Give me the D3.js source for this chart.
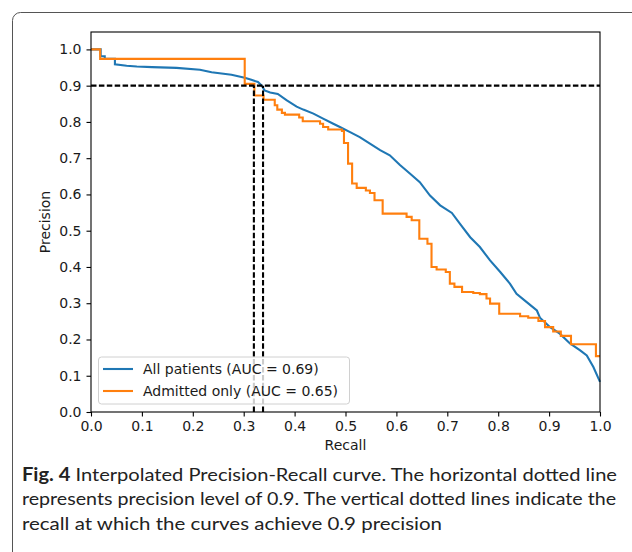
<!DOCTYPE html>
<html>
<head>
<meta charset="utf-8">
<script src="https://cdn.jsdelivr.net/npm/d3@7"></script>
<style>
  body { margin: 0; background: #fff; }
  svg { display: block; }
</style>
</head>
<body>
<div id="chart"></div>
<script>
// Tick values for both axes
var ticks = [0, 0.1, 0.2, 0.3, 0.4, 0.5, 0.6, 0.7, 0.8, 0.9, 1.0];

// Blue curve: All patients (recall, precision), corners
var allRecall = [0, 0.019, 0.019, 0.027, 0.027, 0.047, 0.047, 0.070, 0.090, 0.120, 0.168, 0.214, 0.237, 0.276, 0.302, 0.315, 0.328, 0.335, 0.341, 0.352, 0.367, 0.384, 0.404, 0.417, 0.437, 0.456, 0.476, 0.489, 0.509, 0.528, 0.548, 0.568, 0.587, 0.607, 0.627, 0.646, 0.666, 0.686, 0.709, 0.725, 0.745, 0.764, 0.784, 0.804, 0.823, 0.836, 0.856, 0.876, 0.882, 0.902, 0.921, 0.941, 0.961, 0.974, 0.987, 1.0];
var allPrecision = [1.0, 1.0, 0.981, 0.981, 0.974, 0.974, 0.959, 0.955, 0.953, 0.951, 0.949, 0.944, 0.937, 0.930, 0.922, 0.916, 0.910, 0.901, 0.887, 0.881, 0.877, 0.860, 0.842, 0.834, 0.823, 0.809, 0.795, 0.786, 0.772, 0.758, 0.740, 0.722, 0.708, 0.681, 0.657, 0.634, 0.597, 0.570, 0.549, 0.519, 0.482, 0.455, 0.418, 0.386, 0.354, 0.326, 0.303, 0.280, 0.260, 0.234, 0.216, 0.189, 0.170, 0.156, 0.124, 0.083];

// Orange curve: Admitted only (step after each recall)
var admRecall = [0, 0.018, 0.302, 0.321, 0.339, 0.361, 0.366, 0.375, 0.381, 0.409, 0.416, 0.450, 0.456, 0.466, 0.493, 0.497, 0.505, 0.513, 0.522, 0.540, 0.548, 0.557, 0.573, 0.620, 0.630, 0.645, 0.661, 0.669, 0.679, 0.697, 0.705, 0.714, 0.729, 0.751, 0.764, 0.777, 0.784, 0.802, 0.843, 0.859, 0.879, 0.892, 0.908, 0.923, 0.943, 0.992, 1.0];
var admPrecision = [1.0, 0.974, 0.905, 0.873, 0.861, 0.846, 0.834, 0.825, 0.820, 0.812, 0.802, 0.795, 0.786, 0.779, 0.775, 0.742, 0.685, 0.630, 0.618, 0.611, 0.604, 0.584, 0.547, 0.538, 0.529, 0.478, 0.464, 0.400, 0.393, 0.386, 0.354, 0.345, 0.331, 0.328, 0.325, 0.313, 0.299, 0.271, 0.264, 0.260, 0.251, 0.234, 0.222, 0.210, 0.187, 0.154, 0.154];

// Reference lines
var precisionLevel = 0.9;
var recallAt = [0.320, 0.338];

var seriesNames = ["All patients (AUC = 0.69)", "Admitted only (AUC = 0.65)"];
var seriesColors = ["#1f77b4", "#ff7f0e"];

var captionBold = "Fig. 4";
var captionLines = [
  " Interpolated Precision-Recall curve. The horizontal dotted line",
  "represents precision level of 0.9. The vertical dotted lines indicate the",
  "recall at which the curves achieve 0.9 precision"
];

function init() {
  var w = 632, h = 552;
  var svg = d3.select("#chart").append("svg")
    .attr("width", w).attr("height", h);

  // figure frame
  svg.append("rect")
    .attr("x", 12.5).attr("y", 12.5)
    .attr("width", 640).attr("height", 600)
    .attr("rx", 8)
    .attr("fill", "none")
    .attr("stroke", "#555")
    .attr("stroke-width", 1);

  var left = 91, right = 600, top = 32, bottom = 412;

  var x = d3.scaleLinear().domain([0, 1]).range([left, right]);
  var y = d3.scaleLinear().domain([0, 1.048]).range([bottom, top]);

  var tickFont = "DejaVu Sans, sans-serif";
  var fs = "14px";

  var xAxis = svg.append("g")
    .attr("transform", "translate(0," + bottom + ")")
    .call(d3.axisBottom(x).tickValues(ticks).tickFormat(d3.format(".1f")).tickSize(4.5).tickSizeOuter(0).tickPadding(5));
  var yAxis = svg.append("g")
    .attr("transform", "translate(" + left + ",0)")
    .call(d3.axisLeft(y).tickValues(ticks).tickFormat(d3.format(".1f")).tickSize(4.5).tickSizeOuter(0).tickPadding(5));

  [xAxis, yAxis].forEach(function(g) {
    g.select(".domain").remove();
    g.selectAll(".tick line").attr("stroke", "#000").attr("stroke-width", 1.1);
    g.selectAll(".tick text")
      .attr("fill", "#1a1a1a")
      .style("font-family", tickFont)
      .style("font-size", fs);
  });

  // curves
  var blue = allRecall.map(function(r, i) { return [r, allPrecision[i]]; });
  var orange = admRecall.map(function(r, i) { return [r, admPrecision[i]]; });

  var lineLinear = d3.line()
    .x(function(d) { return x(d[0]); })
    .y(function(d) { return y(d[1]); });
  var lineStep = d3.line()
    .x(function(d) { return x(d[0]); })
    .y(function(d) { return y(d[1]); })
    .curve(d3.curveStepAfter);

  svg.append("path")
    .attr("d", lineLinear(blue))
    .attr("fill", "none")
    .attr("stroke", seriesColors[0])
    .attr("stroke-width", 2.1);

  svg.append("path")
    .attr("d", lineStep(orange))
    .attr("fill", "none")
    .attr("stroke", seriesColors[1])
    .attr("stroke-width", 2.1);

  // dashed reference lines
  svg.append("line")
    .attr("x1", x(0)).attr("x2", x(1))
    .attr("y1", y(precisionLevel)).attr("y2", y(precisionLevel))
    .attr("stroke", "#000").attr("stroke-width", 2.1)
    .attr("stroke-dasharray", "5.5,2.4");

  svg.selectAll("vline")
    .data(recallAt)
    .enter()
    .append("line")
      .attr("x1", function(d) { return x(d); })
      .attr("x2", function(d) { return x(d); })
      .attr("y1", y(0))
      .attr("y2", y(precisionLevel))
      .attr("stroke", "#000").attr("stroke-width", 2.1)
      .attr("stroke-dasharray", "5.5,2.4");

  // axes frame
  svg.append("rect")
    .attr("x", left).attr("y", top)
    .attr("width", right - left).attr("height", bottom - top)
    .attr("fill", "none")
    .attr("stroke", "#000")
    .attr("stroke-width", 1.1);

  // axis labels
  svg.append("text")
    .attr("x", (left + right) / 2).attr("y", 450)
    .attr("text-anchor", "middle")
    .style("font-family", tickFont).style("font-size", fs)
    .attr("fill", "#1a1a1a")
    .text("Recall");

  svg.append("text")
    .attr("transform", "translate(50," + ((top + bottom) / 2) + ") rotate(-90)")
    .attr("text-anchor", "middle")
    .style("font-family", tickFont).style("font-size", fs)
    .attr("fill", "#1a1a1a")
    .text("Precision");

  // legend
  svg.append("rect")
    .attr("x", 98.5).attr("y", 357)
    .attr("width", 251).attr("height", 47)
    .attr("rx", 3)
    .attr("fill", "#fff").attr("fill-opacity", 0.8)
    .attr("stroke", "#d0d0d0").attr("stroke-width", 1);

  svg.selectAll("legline")
    .data(seriesNames)
    .enter()
    .append("line")
      .attr("x1", 103).attr("x2", 133)
      .attr("y1", function(d, i) { return 369 + i * 22; })
      .attr("y2", function(d, i) { return 369 + i * 22; })
      .attr("stroke", function(d, i) { return seriesColors[i]; })
      .attr("stroke-width", 2.1);

  svg.selectAll("leglabel")
    .data(seriesNames)
    .enter()
    .append("text")
      .attr("x", 143)
      .attr("y", function(d, i) { return 369 + i * 22; })
      .attr("dy", "0.35em")
      .style("font-family", tickFont).style("font-size", fs)
      .attr("fill", "#1a1a1a")
      .text(function(d) { return d; });

  // caption
  var capFont = "Lato, 'Open Sans', sans-serif";
  var capWidths = [595, 594, 420];
  var cap = svg.append("g")
    .style("font-family", capFont)
    .style("font-size", "18px")
    .attr("fill", "#222");

  captionLines.forEach(function(line, i) {
    var t = cap.append("text")
      .attr("x", 22)
      .attr("y", 481 + i * 24.3)
      .attr("textLength", capWidths[i])
      .attr("lengthAdjust", "spacingAndGlyphs");
    if (i === 0) {
      t.append("tspan").style("font-weight", "bold").text(captionBold);
    }
    t.append("tspan").text(line);
  });
}
window.onload = init;
</script>
</body>
</html>
